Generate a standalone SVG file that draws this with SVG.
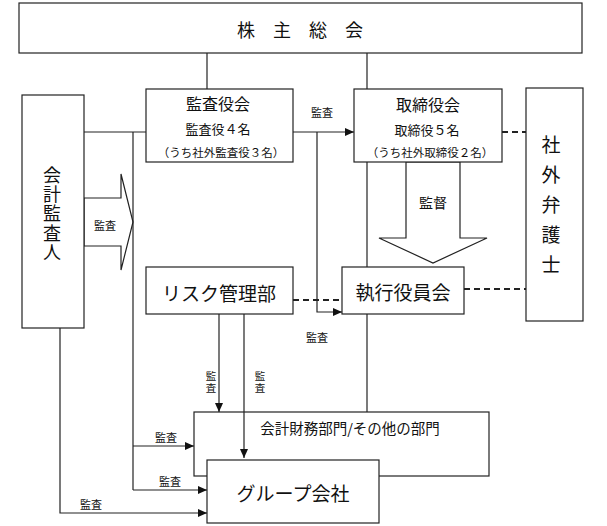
<svg xmlns="http://www.w3.org/2000/svg" width="607" height="526" viewBox="0 0 607 526">
<style>
.b{fill:#fff;stroke:#222;stroke-width:1.2}
.l{fill:none;stroke:#222;stroke-width:1.2}
.d{fill:none;stroke:#222;stroke-width:1.8;stroke-dasharray:6 4}
text{font-family:"Noto Sans CJK JP","Noto Sans",sans-serif;fill:#111;text-anchor:middle;dominant-baseline:central}
.s{font-size:11px}
.t{font-size:10.5px;letter-spacing:1px}
.v{writing-mode:vertical-rl;text-anchor:start}
</style>
<defs>
<marker id="a" markerWidth="9" markerHeight="8" refX="9" refY="4" orient="auto" markerUnits="userSpaceOnUse">
<path d="M0,0 L9,4 L0,8 Z" fill="#111"/>
</marker>
</defs>
<rect width="607" height="526" fill="#fff"/>
<g id="connectors">
<line class="l" x1="207" y1="53" x2="207" y2="89"/>
<line class="l" x1="367" y1="53" x2="367" y2="89"/>
<line class="l" x1="84" y1="132" x2="146" y2="132"/>
<line class="l" x1="293" y1="132" x2="354" y2="132" marker-end="url(#a)"/>
<polyline class="l" points="317,132 317,312 342,312" marker-end="url(#a)"/>
<line class="d" x1="502" y1="132" x2="526" y2="132"/>
<line class="d" x1="464" y1="289" x2="526" y2="289"/>
<line class="d" x1="293" y1="300" x2="342" y2="300"/>
<line class="l" x1="367" y1="162" x2="367" y2="267"/>
<line class="l" x1="367" y1="314" x2="367" y2="412"/>
<polygon class="b" points="84,198 121,198 121,174 133,222 121,270 121,246 84,246"/>
<polygon class="b" points="406,162 406,238 379,238 433,263 487,238 460,238 460,162"/>
<line class="l" x1="133" y1="132" x2="133" y2="490"/>
<line class="l" x1="133" y1="446" x2="194" y2="446" marker-end="url(#a)"/>
<line class="l" x1="133" y1="490" x2="207" y2="490" marker-end="url(#a)"/>
<polyline class="l" points="60,328 60,513 207,513" marker-end="url(#a)"/>
<line class="l" x1="219" y1="314" x2="219" y2="412" marker-end="url(#a)"/>
<text class="s" x="105" y="225">監査</text>
<text style="font-size:14px" x="433" y="202">監督</text>
<text class="s" x="322" y="112">監査</text>
<text class="s" x="317" y="337">監査</text>
<text class="s" x="166" y="437">監査</text>
<text class="s" x="170" y="481">監査</text>
<text class="s" x="91" y="504">監査</text>
<text class="t v" x="211" y="371">監査</text>
<text class="t v" x="260" y="371">監査</text>
</g>
<g id="shareholders">
<rect class="b" x="19" y="3" width="563" height="50"/>
<text x="309" y="29" style="font-size:18px;letter-spacing:18px">株主総会</text>
</g>
<g id="auditor">
<rect class="b" x="22" y="95" width="62" height="233"/>
<text class="v" x="52" y="166" style="font-size:18px;letter-spacing:1.3px">会計監査人</text>
</g>
<g id="kansayakukai">
<rect class="b" x="146" y="89" width="147" height="73"/>
<text x="218" y="103" style="font-size:16px">監査役会</text>
<text x="218" y="128" style="font-size:13px">監査役４名</text>
<text x="221" y="152" style="font-size:11.5px">（うち社外監査役３名）</text>
</g>
<g id="torishimariyakukai">
<rect class="b" x="354" y="89" width="148" height="73"/>
<text x="428" y="104" style="font-size:16px">取締役会</text>
<text x="427" y="129" style="font-size:13px">取締役５名</text>
<text x="430" y="152" style="font-size:11.5px">（うち社外取締役２名）</text>
</g>
<g id="lawyer">
<rect class="b" x="526" y="88" width="57" height="233"/>
<text class="v" x="551" y="135" style="font-size:19px;letter-spacing:11px">社外弁護士</text>
</g>
<g id="risk">
<rect class="b" x="146" y="267" width="147" height="47"/>
<text x="219" y="292" style="font-size:19px">リスク管理部</text>
</g>
<g id="executive">
<rect class="b" x="342" y="267" width="122" height="47"/>
<text x="403" y="291" style="font-size:19px">執行役員会</text>
</g>
<g id="departments">
<rect class="b" x="194" y="412" width="295" height="64"/>
<text x="350" y="427" style="font-size:14.5px">会計財務部門/その他の部門</text>
</g>
<g id="arrow-risk-group">
<line class="l" x1="244" y1="314" x2="244" y2="458" marker-end="url(#a)"/>
</g>
<g id="group">
<rect class="b" x="207" y="460" width="172" height="63"/>
<text x="293" y="492" style="font-size:19px">グループ会社</text>
</g>
</svg>
